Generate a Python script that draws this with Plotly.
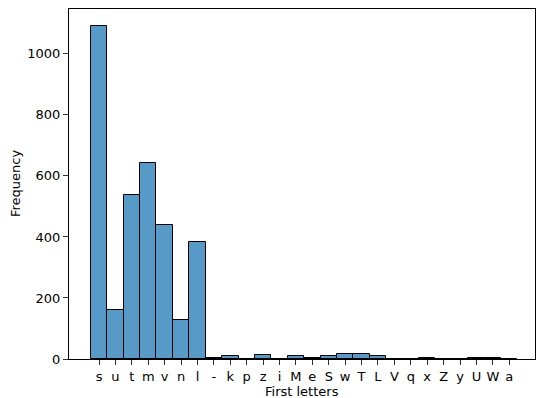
import plotly.graph_objects as go

categories = ["s", "u", "t", "m", "v", "n", "l", "-", "k", "p", "z", "i", "M", "e",
              "S", "w", "T", "L", "V", "q", "x", "Z", "y", "U", "W", "a"]
counts = [1092, 160, 538, 642, 439, 128, 385, 3, 9, 1, 13, 1, 9, 2,
          11, 17, 17, 9, 1, 1, 2, 1, 1, 2, 2, 1]
y_ticks = [0, 200, 400, 600, 800, 1000]

fig = go.Figure(go.Bar(
    x=categories, y=counts, width=1,
    marker=dict(color="rgba(31,119,180,0.75)", line=dict(color="black", width=1)),
))

font = dict(family="DejaVu Sans", size=13, color="black")
fig.update_layout(
    width=536, height=398,
    margin=dict(l=69, r=1, t=9, b=39, autoexpand=False),
    plot_bgcolor="white", paper_bgcolor="white",
    font=font, bargap=0, showlegend=False,
    xaxis=dict(type="category", range=[-1.83, 26.57], showgrid=False, automargin=False,
               showline=True, linecolor="black", linewidth=1, mirror=True,
               ticks="outside", ticklen=5, tickcolor="#333", tickfont=font),
    yaxis=dict(range=[0, 1147], showgrid=False, zeroline=False, automargin=False,
               showline=True, linecolor="black", linewidth=1, mirror=True,
               tickvals=y_ticks, ticks="outside", ticklen=5, tickcolor="#333",
               tickfont=font),
    annotations=[
        dict(text="First letters", xref="paper", yref="paper", x=0.5, y=0,
             xanchor="center", yanchor="middle", yshift=-32, showarrow=False, font=font),
        dict(text="Frequency", xref="paper", yref="paper", x=0, y=0.5, textangle=-90,
             xanchor="center", yanchor="middle", xshift=-54, showarrow=False, font=font),
    ],
)
fig.write_html("out.html",
               config={"displayModeBar": False},
               post_script="document.body.style.margin='0';document.body.style.overflow='hidden';")
